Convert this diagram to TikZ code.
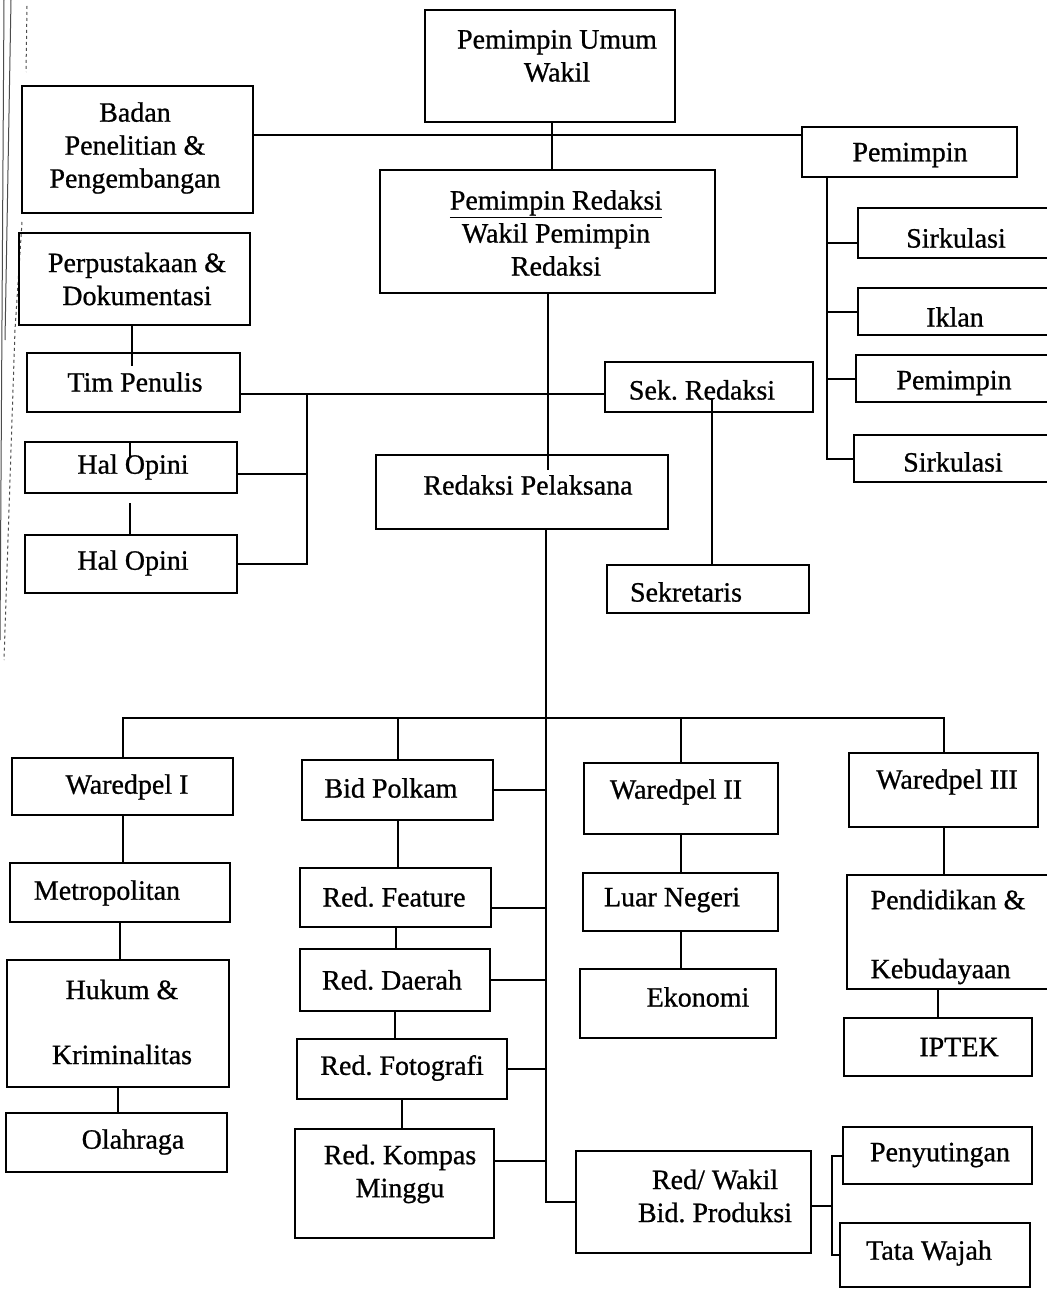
\documentclass[tikz,border=0pt]{standalone}
\usepackage{fontspec}
\setmainfont{Liberation Serif}[FakeBold=0.8]
\usetikzlibrary{calc}
\frenchspacing
\tikzset{
  box/.style={draw, line width=2pt, inner sep=0pt},
  txt/.style={font=\fontsize{28}{33}\selectfont, inner sep=0pt, align=center},
  ln/.style={line width=2pt},
  scan/.style={line width=1pt, black!70}
}
% \bx[text options]{name}{x1}{y1}{x2}{y2}{tx}{ty}{text}
\newcommand\bx[9][]{%
  \node[box, minimum width={(#5)-(#3)}, minimum height={(#6)-(#4)}] (#2) at ({((#3)+(#5))/2},{((#4)+(#6))/2}) {};
  \node[txt,#1] (#2-t) at (#7,#8) {#9};}
\begin{document}
\frenchspacing
\begin{tikzpicture}[x=1pt,y=-1pt]
\useasboundingbox (0,0) rectangle (1046,1289);
\fill[white] (0,0) rectangle (1046,1289);
% scan edge marks
\draw[scan] (4,0) -- (0,640);
\draw[scan] (11,0) -- (5,340);
\draw[scan, dashed] (27,6) -- (26,72);
\draw[scan, dashed] (22,222) -- (15,330) -- (4,660);
% boxes
\bx{PU}{425}{10}{675}{122}{557}{56}{Pemimpin Umum\\Wakil}
\bx{badan}{22}{86}{253}{213}{135}{148}{Badan\\Penelitian \&\\Pengembangan}
\bx{perp}{19}{233}{250}{325}{137}{279}{Perpustakaan \&\\Dokumentasi}
\bx{PR}{380}{170}{715}{293}{556}{233}{\underline{Pemimpin Redaksi}\\Wakil Pemimpin\\Redaksi}
\bx{pem}{802}{127}{1017}{177}{910}{155}{Pemimpin}
\bx{sirk1}{858}{208}{1070}{258}{956}{238}{Sirkulasi}
\bx{iklan}{858}{288}{1070}{335}{955}{317}{Iklan}
\bx{pem2}{856}{355}{1070}{402}{954}{383}{Pemimpin}
\bx{sirk2}{854}{435}{1070}{482}{953}{462}{Sirkulasi}
\bx{tim}{27}{353}{240}{412}{135}{382}{Tim Penulis}
\bx{hal1}{25}{442}{237}{493}{133}{467}{Hal Opini}
\bx{hal2}{25}{535}{237}{593}{133}{563}{Hal Opini}
\bx{sek}{605}{362}{813}{412}{702}{390}{Sek. Redaksi}
\bx{rp}{376}{455}{668}{529}{528}{485}{Redaksi Pelaksana}
\bx{sekr}{607}{565}{809}{613}{686}{592}{Sekretaris}
\bx{wp1}{12}{758}{233}{815}{127}{787}{Waredpel I}
\bx{polkam}{302}{760}{493}{820}{391}{788}{Bid Polkam}
\bx{wp2}{584}{763}{778}{834}{676}{792}{Waredpel II}
\bx{wp3}{849}{753}{1038}{827}{947}{782}{Waredpel III}
\bx{metro}{10}{863}{230}{922}{107}{893}{Metropolitan}
\bx{feature}{300}{868}{491}{927}{394}{897}{Red. Feature}
\bx{luar}{583}{873}{778}{931}{672}{900}{Luar Negeri}
\bx[align=left]{pend}{847}{875}{1070}{989}{948}{937}{Pendidikan \&\\[36pt]Kebudayaan}
\bx{hukum}{7}{960}{229}{1087}{122}{1022}{Hukum \&\\[32pt]Kriminalitas}
\bx{daerah}{300}{949}{490}{1011}{392}{980}{Red. Daerah}
\bx{eko}{580}{969}{776}{1038}{698}{997}{Ekonomi}
\bx{iptek}{844}{1018}{1032}{1076}{959}{1047}{IPTEK}
\bx{foto}{297}{1039}{507}{1099}{402}{1068}{Red. Fotografi}
\bx{olah}{6}{1113}{227}{1172}{133}{1142}{Olahraga}
\bx{kompas}{295}{1129}{494}{1238}{400}{1174}{Red. Kompas\\Minggu}
\bx{rw}{576}{1151}{811}{1253}{715}{1196}{Red/ Wakil\\Bid. Produksi}
\bx{peny}{843}{1127}{1032}{1184}{940}{1155}{Penyutingan}
\bx{tata}{840}{1223}{1030}{1287}{929}{1253}{Tata Wajah}
% junction coordinates
\coordinate (jA) at (552,135);
\coordinate (jB) at (827,177);
\coordinate (jC) at (132,366);
\coordinate (jD) at (307,394);
\coordinate (jE) at (130,457);
\coordinate (jE2) at (130,503);
\coordinate (jF) at (548,470);
\coordinate (jG) at (712,398);
\coordinate (jH) at (546,718);
\coordinate (jI) at (832,1206);
% top connectors
\draw[ln] (PU.south -| jA) -- (PR.north -| jA);
\draw[ln] (badan.east |- jA) -- (pem.west |- jA);
\draw[ln] (pem.south -| jB) |- (sirk2.west);
\draw[ln] ([yshift=-10pt]sirk1.west) -- ([yshift=-10pt]sirk1.west -| jB);
\draw[ln] (iklan.west) -- (iklan.west -| jB);
\draw[ln] (pem2.west) -- (pem2.west -| jB);
% left group
\draw[ln] (perp.south -| jC) -- (jC);
\draw[ln] (tim.east |- jD) -- (sek.west |- jD);
\draw[ln] (jD) |- (hal2.east);
\draw[ln] ([yshift=-6pt]hal1.east) -- ([yshift=-6pt]hal1.east -| jD);
\draw[ln] (hal1.north -| jE) -- (jE);
\draw[ln] (jE2) -- (hal2.north -| jE2);
% centre column
\draw[ln] (PR.south -| jF) -- (jF);
\draw[ln] (jG) -- (sekr.north -| jG);
\draw[ln] (rp.south -| jH) |- (rw.west);
% branch bar
\draw[ln] (wp1.north) |- (jH) -| (wp3.north);
\draw[ln] (polkam.north) -- (polkam.north |- jH);
\draw[ln] (wp2.north) -- (wp2.north |- jH);
% Waredpel I column
\draw[ln] (wp1.south) -- (wp1.south |- metro.north);
\draw[ln] (metro.south) -- (metro.south |- hukum.north);
\draw[ln] (hukum.south) -- (hukum.south |- olah.north);
% Bid Polkam column
\draw[ln] (polkam.south) -- (polkam.south |- feature.north);
\draw[ln] (feature.south) -- (feature.south |- daerah.north);
\draw[ln] (daerah.south) -- (daerah.south |- foto.north);
\draw[ln] (foto.south) -- (foto.south |- kompas.north);
\draw[ln] (polkam.east) -- (polkam.east -| jH);
\draw[ln] ([yshift=-10pt]feature.east) -- ([yshift=-10pt]feature.east -| jH);
\draw[ln] (daerah.east) -- (daerah.east -| jH);
\draw[ln] (foto.east) -- (foto.east -| jH);
\draw[ln] ([yshift=23pt]kompas.east) -- ([yshift=23pt]kompas.east -| jH);
% Waredpel II column
\draw[ln] (wp2.south) -- (wp2.south |- luar.north);
\draw[ln] (luar.south) -- (luar.south |- eko.north);
% Waredpel III column
\draw[ln] (wp3.south) -- (wp3.south |- pend.north);
\draw[ln] (pend.south -| iptek.north) -- (iptek.north);
% production
\draw[ln] (rw.east |- jI) -- (jI);
\draw[ln] (peny.west) -| (jI) |- (tata.west);
\end{tikzpicture}
\end{document}
